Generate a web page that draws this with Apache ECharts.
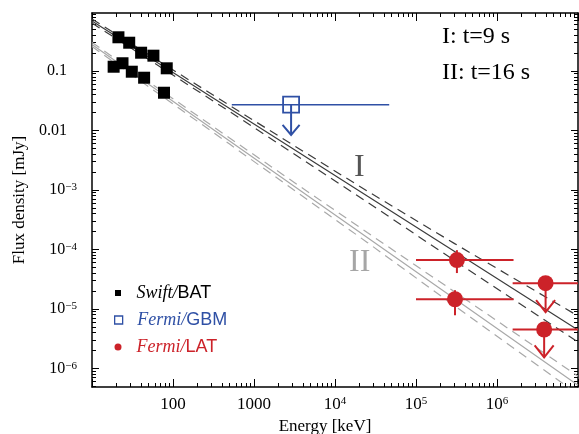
<!DOCTYPE html>
<html><head><meta charset="utf-8">
<script src="https://cdn.jsdelivr.net/npm/echarts@6/dist/echarts.min.js"></script>
<style>html,body{margin:0;padding:0;background:#fff}#c{width:579px;height:434px}</style>
</head><body><div id="c"></div>
<script>
// ---------- data ----------
const batE_t9  = [21.2, 28.8, 40.4, 57.3, 83.7];
const batF_t9  = [0.369, 0.299, 0.203, 0.181, 0.111];
const batE_t16 = [18.5, 23.8, 31.0, 44.0, 77.4];
const batF_t16 = [0.118, 0.135, 0.0973, 0.0771, 0.0431];

const gbmE = [2870];
const gbmF = [0.0271];
const gbmElo = [532];
const gbmEhi = [46700];
const gbmUlTo = [8.4e-3];

const latE = [3.2e5, 3.03e5];
const latF = [6.6e-5, 1.45e-5];
const latElo = [1.0e5, 1.0e5];
const latEhi = [1.6e6, 1.6e6];
const latFlo = [4.0e-5, 7.8e-6];
const latFhi = [9.7e-5, 2.06e-5];

const latUlE = [3.98e6, 3.82e6];
const latUlF = [2.7e-5, 4.5e-6];
const latUlElo = [1.56e6, 1.56e6];
const latUlEhi = [2e7, 2e7];
const latUlTo = [8.8e-6, 1.53e-6];

const modelE       = [10, 500, 2.5e4, 3e5, 1e7];
const modelI       = [0.693, 0.0234, 7.91e-4, 9.20e-5, 4.42e-6];
const modelI_up    = [0.750, 0.0263, 9.57e-4, 1.25e-4, 7.60e-6];
const modelI_lo    = [0.641, 0.0208, 6.25e-4, 6.46e-5, 2.77e-6];
const modelII      = [0.279, 6.65e-3, 1.585e-4, 1.479e-5, 5.20e-7];
const modelII_up   = [0.302, 7.46e-3, 1.92e-4, 1.93e-5, 7.38e-7];
const modelII_lo   = [0.258, 5.90e-3, 1.31e-4, 1.12e-5, 3.66e-7];

const xMajorTicks = [10, 100, 1e3, 1e4, 1e5, 1e6, 1e7];
const xTickLabels = [100, 1e3, 1e4, 1e5, 1e6];
const yMajorTicks = [1e-6, 1e-5, 1e-4, 1e-3, 1e-2, 1e-1];
const yTickLabels = [1e-6, 1e-5, 1e-4, 1e-3, 1e-2, 1e-1];

function minorTicks(k0, k1) {
  const out = [];
  for (let k = k0; k <= k1; k++) for (let m = 2; m <= 9; m++) out.push(m * Math.pow(10, k));
  return out;
}
const xMinorTicks = minorTicks(1, 6);
const yMinorTicks = minorTicks(-7, -1);

// ---------- styles ----------
const SERIF = 'Liberation Serif';
const SANS = 'Liberation Sans';
const BLUE = '#2f50a5';
const RED = '#cc2229';
const DARK = '#3c3c3c';
const LIGHT = '#a9a9a9';

const X_MIN = 10, X_MAX = 1e7, Y_MIN = 4.85e-7, Y_MAX = 0.945;

function xFmt(v) {
  const k = Math.round(Math.log10(v));
  if (k === 2) return '100';
  if (k === 3) return '1000';
  return '10{s|' + k + '}';
}
function yFmt(v) {
  const k = Math.round(Math.log10(v));
  if (k === -1) return '0.1{p|}';
  if (k === -2) return '0.01{p|}';
  return '10{s|\u2212' + (-k) + '}';
}

function xAx(position, ticks, len, showLine, withLabels) {
  const a = {
    type: 'log', logBase: 10, min: X_MIN, max: X_MAX, position: position,
    axisLine: { show: showLine, onZero: false, lineStyle: { color: '#000', width: 1.5 } },
    axisTick: { show: true, inside: true, length: len, customValues: ticks, lineStyle: { color: '#000', width: 1 } },
    axisLabel: { show: false },
    splitLine: { show: false }, minorTick: { show: false }
  };
  if (withLabels) {
    a.axisLabel = {
      show: true, customValues: xTickLabels, formatter: xFmt, margin: 9,
      color: '#000', fontFamily: SERIF, fontSize: 17, lineHeight: 17,
      rich: { s: { fontFamily: SERIF, fontSize: 11, lineHeight: 11, verticalAlign: 'top', color: '#000' } }
    };
    a.name = 'Energy [keV]';
    a.nameLocation = 'middle';
    a.nameGap = 24;
    a.nameTextStyle = { fontFamily: SERIF, fontSize: 17, color: '#000', padding: [0, 20, 0, 0], verticalAlign: 'top' };
  }
  return a;
}
function yAx(position, ticks, len, showLine, withLabels) {
  const a = {
    type: 'log', logBase: 10, min: Y_MIN, max: Y_MAX, position: position,
    axisLine: { show: showLine, onZero: false, lineStyle: { color: '#000', width: 1.5 } },
    axisTick: { show: true, inside: true, length: len, customValues: ticks, lineStyle: { color: '#000', width: 1 } },
    axisLabel: { show: false },
    splitLine: { show: false }, minorTick: { show: false }
  };
  if (withLabels) {
    a.axisLabel = {
      show: true, customValues: yTickLabels, formatter: yFmt, margin: 15,
      color: '#000', fontFamily: SERIF, fontSize: 16, lineHeight: 16,
      rich: {
        s: { fontFamily: SERIF, fontSize: 11, lineHeight: 11, verticalAlign: 'top', color: '#000' },
        p: { width: 10 }
      }
    };
    a.name = 'Flux density [mJy]';
    a.nameLocation = 'middle';
    a.nameGap = 59;
    a.nameRotate = 90;
    a.nameTextStyle = { fontFamily: SERIF, fontSize: 17, color: '#000' };
  }
  return a;
}

function pairs(xs, ys) { return xs.map((x, i) => [x, ys[i]]); }

function modelLine(ys, color, dashed) {
  return {
    type: 'line', data: pairs(modelE, ys), symbol: 'none', silent: true, z: 1,
    xAxisIndex: 0, yAxisIndex: 0, animation: false, clip: true,
    lineStyle: { color: color, width: 1.2, type: dashed ? [9, 6] : 'solid' }
  };
}

function errRender(color, width) {
  return function (params, api) {
    const y = api.value(1);
    const lo = api.coord([api.value(2), y]);
    const hi = api.coord([api.value(3), y]);
    const children = [{ type: 'line', shape: { x1: lo[0], y1: lo[1], x2: hi[0], y2: hi[1] },
      style: { stroke: color, lineWidth: width } }];
    const f1 = api.value(4), f2 = api.value(5);
    if (!isNaN(f1) && !isNaN(f2) && f1 > 0 && f2 > 0) {
      const a = api.coord([api.value(0), f1]);
      const b = api.coord([api.value(0), f2]);
      children.push({ type: 'line', shape: { x1: a[0], y1: a[1], x2: b[0], y2: b[1] },
        style: { stroke: color, lineWidth: width } });
    }
    return { type: 'group', children: children };
  };
}
function arrowRender(color, width, hw, hh) {
  return function (params, api) {
    const a = api.coord([api.value(0), api.value(1)]);
    const b = api.coord([api.value(0), api.value(2)]);
    return { type: 'group', children: [
      { type: 'line', shape: { x1: a[0], y1: a[1], x2: b[0], y2: b[1] }, style: { stroke: color, lineWidth: width } },
      { type: 'polyline', shape: { points: [[b[0] - hw, b[1] - hh], [b[0], b[1]], [b[0] + hw, b[1] - hh]] },
        style: { stroke: color, lineWidth: width, fill: 'none' } }
    ] };
  };
}

const legendRich = (color, size) => ({
  sp: { width: 136.5 - 5 - (118 + size / 2), lineHeight: 20 },
  it: { fontFamily: SERIF, fontStyle: 'italic', fontSize: 18, color: color, lineHeight: 20 },
  sf: { fontFamily: SANS, fontSize: 18, color: color, lineHeight: 20 }
});
function legendItem(name, top, icon, size, itemStyle, color, text) {
  return {
    data: [{ name: name, icon: icon, itemStyle: itemStyle }],
    left: 118 - size / 2, top: top, padding: 0, orient: 'vertical',
    itemWidth: size, itemHeight: size, selectedMode: false,
    formatter: function () { return text; },
    textStyle: { rich: legendRich(color, size) }
  };
}

const chart = echarts.init(document.getElementById('c'), null, { renderer: 'canvas' });
chart.setOption({
  animation: false,
  backgroundColor: '#fff',
  grid: { left: 92, right: 1, top: 13, bottom: 47, containLabel: false, outerBoundsMode: 'none' },
  xAxis: [
    xAx('bottom', xMajorTicks, 8, true, true),
    xAx('bottom', xMinorTicks, 4, false, false),
    xAx('top', xMajorTicks, 8, true, false),
    xAx('top', xMinorTicks, 4, false, false)
  ],
  yAxis: [
    yAx('left', yMajorTicks, 7, true, true),
    yAx('left', yMinorTicks, 4, false, false),
    yAx('right', yMajorTicks, 7, true, false),
    yAx('right', yMinorTicks, 4, false, false)
  ],
  legend: [
    legendItem('Swift/BAT', 284, 'rect', 6, { color: '#000' }, '#000', '{sp|}{it|Swift/}{sf|BAT}'),
    legendItem('Fermi/GBM', 311, 'rect', 8, { color: '#fff', borderColor: BLUE, borderWidth: 1.3 }, BLUE, '{sp|}{it|Fermi/}{sf|GBM}'),
    legendItem('Fermi/LAT', 338, 'circle', 7, { color: RED }, RED, '{sp|}{it|Fermi/}{sf|LAT}')
  ],
  graphic: [
    { type: 'text', left: 442, top: 25, style: { text: 'I: t=9 s', font: '24px "Liberation Serif"', fill: '#000' } },
    { type: 'text', left: 442, top: 61, style: { text: 'II: t=16 s', font: '24px "Liberation Serif"', fill: '#000' } },
    { type: 'text', left: 354, top: 152, style: { text: 'I', font: '32px "Liberation Serif"', fill: '#555' } },
    { type: 'text', left: 349, top: 247, style: { text: 'II', font: '32px "Liberation Serif"', fill: '#a6a6a6' } }
  ],
  series: [
    modelLine(modelII, LIGHT, false),
    modelLine(modelII_up, LIGHT, true),
    modelLine(modelII_lo, LIGHT, true),
    modelLine(modelI, DARK, false),
    modelLine(modelI_up, DARK, true),
    modelLine(modelI_lo, DARK, true),
    { type: 'scatter', name: 'Swift/BAT', data: pairs(batE_t9, batF_t9), symbol: 'rect', symbolSize: 12,
      itemStyle: { color: '#000', opacity: 1 }, z: 5 },
    { type: 'scatter', name: 'Swift/BAT', data: pairs(batE_t16, batF_t16), symbol: 'rect', symbolSize: 12,
      itemStyle: { color: '#000', opacity: 1 }, z: 5 },
    { type: 'custom', name: 'gbmErr', renderItem: errRender(BLUE, 1.6), clip: true, z: 4,
      encode: { x: 0, y: 1 },
      data: gbmE.map((e, i) => [e, gbmF[i], gbmElo[i], gbmEhi[i], NaN, NaN]) },
    { type: 'custom', name: 'gbmUL', renderItem: arrowRender(BLUE, 2, 8.5, 10), clip: true, z: 6,
      encode: { x: 0, y: 1 },
      data: gbmE.map((e, i) => [e, gbmF[i], gbmUlTo[i]]) },
    { type: 'scatter', name: 'Fermi/GBM', data: pairs(gbmE, gbmF), symbol: 'rect', symbolSize: 16,
      itemStyle: { color: 'rgba(0,0,0,0)', borderColor: BLUE, borderWidth: 1.8, opacity: 1 }, z: 5 },
    { type: 'custom', name: 'latErr', renderItem: errRender(RED, 2), clip: true, z: 4,
      encode: { x: 0, y: 1 },
      data: latE.map((e, i) => [e, latF[i], latElo[i], latEhi[i], latFlo[i], latFhi[i]]) },
    { type: 'custom', name: 'latUlErr', renderItem: errRender(RED, 2), clip: true, z: 4,
      encode: { x: 0, y: 1 },
      data: latUlE.map((e, i) => [e, latUlF[i], latUlElo[i], latUlEhi[i], NaN, NaN]) },
    { type: 'custom', name: 'latUL', renderItem: arrowRender(RED, 2, 9.5, 12), clip: true, z: 4,
      encode: { x: 0, y: 1 },
      data: latUlE.map((e, i) => [e, latUlF[i], latUlTo[i]]) },
    { type: 'scatter', name: 'Fermi/LAT', data: pairs(latE.concat(latUlE), latF.concat(latUlF)),
      symbol: 'circle', symbolSize: 16, itemStyle: { color: RED, opacity: 1 }, z: 5 }
  ]
});
</script></body></html>
